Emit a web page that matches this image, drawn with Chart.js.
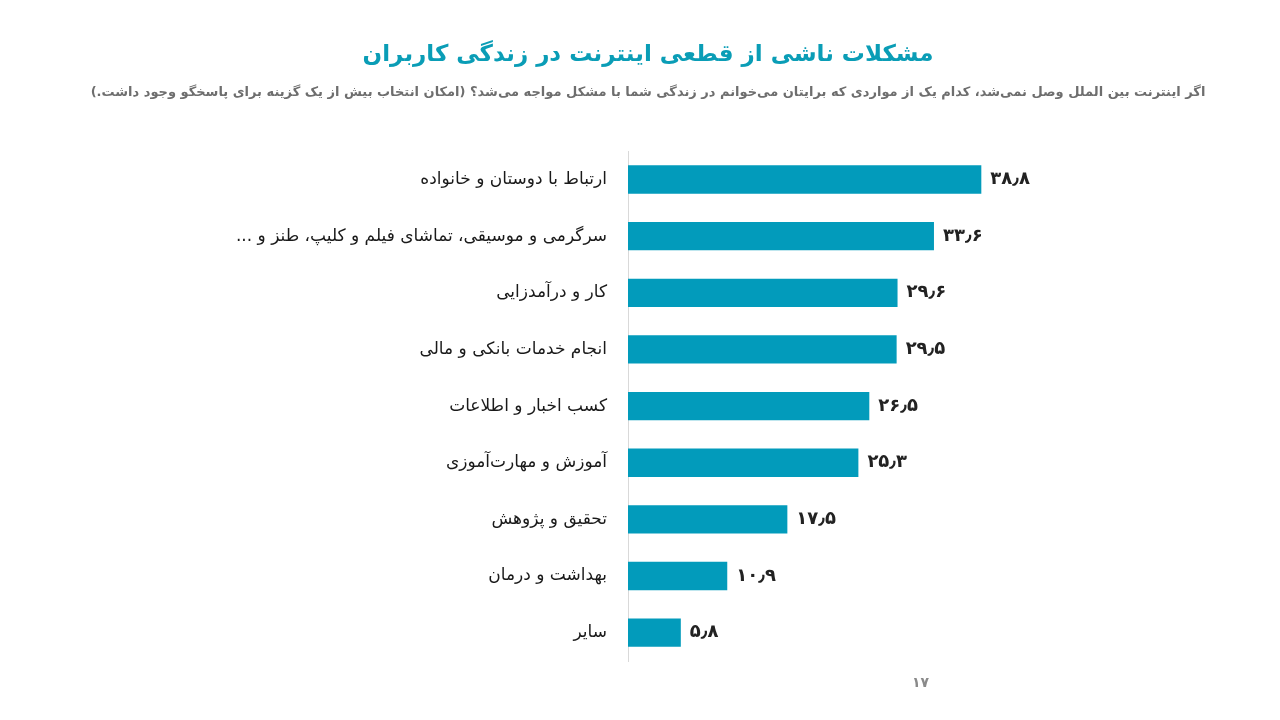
<!DOCTYPE html>
<html>
<head>
<meta charset="utf-8">
<script src="https://cdn.jsdelivr.net/npm/chart.js@4/dist/chart.umd.min.js"></script>
<style>
  html, body { margin: 0; padding: 0; background: #fff; }
  #wrap { position: relative; width: 1280px; height: 720px; }
  #chart { position: absolute; left: 0; top: 0; }
  #page { position: absolute; left: 912px; top: 674px; font: bold 14px "DejaVu Sans", sans-serif; color: #8a8a8a; }
</style>
</head>
<body>
<div id="wrap">
  <canvas id="chart" dir="rtl" width="1280" height="720"></canvas>
  <div id="page" dir="rtl">۱۷</div>
</div>
<script>
// categories and values (percent)
var categories = [
	"ارتباط با دوستان و خانواده",
	"سرگرمی و موسیقی، تماشای فیلم و کلیپ، طنز و ...",
	"کار و درآمدزایی",
	"انجام خدمات بانکی و مالی",
	"کسب اخبار و اطلاعات",
	"آموزش و مهارت‌آموزی",
	"تحقیق و پژوهش",
	"بهداشت و درمان",
	"سایر"
];
var values = [38.8, 33.6, 29.6, 29.5, 26.5, 25.3, 17.5, 10.9, 5.8];

var titleText = "مشکلات ناشی از قطعی اینترنت در زندگی کاربران";
var subtitleText = "اگر اینترنت بین الملل وصل نمی‌شد، کدام یک از مواردی که برایتان می‌خوانم در زندگی شما با مشکل مواجه می‌شد؟ (امکان انتخاب بیش از یک گزینه برای پاسخگو وجود داشت.)";

var FONT = "'DejaVu Sans', sans-serif";

/* turn 38.8 into Persian digits with the Arabic decimal mark */
function toFa(v) {
	var digits = "۰۱۲۳۴۵۶۷۸۹";
	return v.toFixed(1).replace(/\d/g, function (d) { return digits[+d]; }).replace(".", "٫");
}

var valueLabels = {
	id: 'valueLabels',
	afterDatasetsDraw: function (chart) {
		var ctx = chart.ctx;
		var meta = chart.getDatasetMeta(0);
		ctx.save();
		ctx.font = "bold 18px " + FONT;
		ctx.fillStyle = "#222";
		ctx.textAlign = "left";
		ctx.textBaseline = "middle";
		meta.data.forEach(function (bar, i) {
			ctx.fillText(toFa(values[i]), bar.x + 9, bar.y);
		});
		ctx.restore();
	}
};

new Chart(document.getElementById("chart").getContext('2d'), {
	type: 'bar',
	data: {
		labels: categories,
		datasets: [{
			data: values,
			backgroundColor: "#029bbb",
			categoryPercentage: 1,
			barPercentage: 0.5
		}]
	},
	options: {
		indexAxis: 'y',
		responsive: false,
		animation: false,
		layout: { padding: { left: 16, right: 0, top: 0, bottom: 59 } },
		plugins: {
			legend: { display: false },
			tooltip: { enabled: false },
			title: {
				display: true,
				text: titleText,
				color: "#0a9db6",
				font: { family: FONT, size: 23, weight: 'bold' },
				padding: { top: 41, bottom: 16 }
			},
			subtitle: {
				display: true,
				text: subtitleText,
				color: "#6e6e6e",
				font: { family: FONT, size: 13, weight: 'bold' },
				padding: { top: 0, bottom: 51 }
			}
		},
		scales: {
			x: {
				display: false,
				min: 0,
				max: 71.6
			},
			y: {
				grid: { display: false, drawTicks: false },
				border: { display: true, color: "#d9d9d9", width: 1 },
				ticks: {
					color: "#1a1a1a",
					padding: 21,
					font: { family: FONT, size: 17 }
				},
				afterFit: function (scale) { scale.width = 612; }
			}
		}
	},
	plugins: [valueLabels]
});
</script>
</body>
</html>
